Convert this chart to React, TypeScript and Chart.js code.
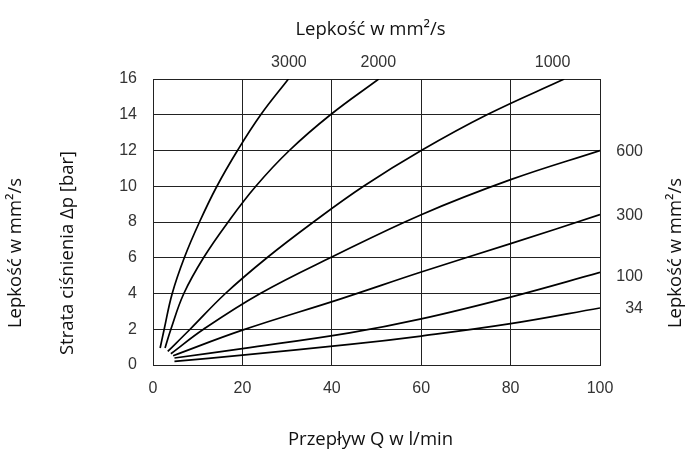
import React, { useEffect, useRef } from "react";
import { Chart, registerables } from "chart.js";

Chart.register(...registerables);

// Axis ticks
const flowTicks = [0, 20, 40, 60, 80, 100];
const pressureTicks = [0, 2, 4, 6, 8, 10, 12, 14, 16];

// Viscosity curves (Q in l/min, Δp in bar)
const viscosityLabels = ["3000", "2000", "1000", "600", "300", "100", "34"];

const q3000 = [1.6, 2.5, 4.3, 7.0, 10.4, 14.3, 18.9, 24.1, 30.3];
const p3000 = [0.95, 2, 4, 6, 8, 10, 12, 14, 16];

const q2000 = [2.7, 4.0, 6.9, 11.3, 16.8, 23.0, 30.5, 39.7, 50.5];
const p2000 = [0.95, 2, 4, 6, 8, 10, 12, 14, 16];

const q1000 = [3.3, 8.3, 16.2, 25.5, 35.9, 47.1, 60, 74.7, 92];
const p1000 = [0.76, 2, 4, 6, 8, 10, 12, 14, 16];

const q600 = [4.0, 11.3, 24, 40, 60, 80, 100];
const p600 = [0.63, 2, 4, 6.04, 8.41, 10.37, 12.0];

const q300 = [4.5, 20, 42, 60, 80, 100];
const p300 = [0.52, 1.95, 3.7, 5.2, 6.79, 8.41];

const q100 = [4.8, 20, 44, 60, 80, 100];
const p100 = [0.39, 0.92, 1.8, 2.58, 3.8, 5.18];

const q34 = [4.8, 20, 44, 60, 80, 100];
const p34 = [0.2, 0.55, 1.15, 1.62, 2.31, 3.19];

const seriesQ = [q3000, q2000, q1000, q600, q300, q100, q34];
const seriesP = [p3000, p2000, p1000, p600, p300, p100, p34];

// Text
const titleTop = "Lepkość w mm²/s";
const titleLeftOuter = "Lepkość w mm²/s";
const titleLeftInner = "Strata ciśnienia Δp [bar]";
const titleRight = "Lepkość w mm²/s";
const titleBottom = "Przepływ Q w l/min";

export default function App() {
  const canvasRef = useRef<HTMLCanvasElement | null>(null);

  useEffect(() => {
    document.body.style.margin = "0";
    const canvas = canvasRef.current;
    if (!canvas) return;

    const TITLE_FONT = '18.5px "Open Sans"';
    const TICK_FONT_FAMILY = '"Liberation Sans", Arial, sans-serif';
    const TICK_COLOR = "#333";

    // label anchors (x in flow units for top labels, y in bar units for right labels)
    const topLabelAnchors = [30.4, 50.4, 89.4];
    const rightLabelAnchors = [11.95, 8.35, 4.95, 3.13];

    const textPlugin = {
      id: "chartTexts",
      afterDraw(chart: any) {
        const { ctx, chartArea: a, scales } = chart;
        const xs = scales.x;
        const ys = scales.y;
        const cx = (a.left + a.right) / 2 - 6;
        const cy = (a.top + a.bottom) / 2 + 31;
        ctx.save();
        ctx.fillStyle = "#111";
        ctx.font = TITLE_FONT;
        ctx.textAlign = "center";
        ctx.textBaseline = "alphabetic";
        ctx.fillText(titleTop, cx, a.top - 44.5);
        ctx.fillText(titleBottom, cx, a.bottom + 80);

        const drawRot = (text: string, x: number, y: number) => {
          ctx.save();
          ctx.translate(x, y);
          ctx.rotate(-Math.PI / 2);
          ctx.textAlign = "center";
          ctx.textBaseline = "middle";
          ctx.fillText(text, 0, 0);
          ctx.restore();
        };
        drawRot(titleLeftOuter, 16, cy);
        drawRot(titleLeftInner, 68, cy);
        drawRot(titleRight, a.right + 76, cy);

        ctx.font = "16px " + TICK_FONT_FAMILY;
        ctx.fillStyle = TICK_COLOR;
        ctx.textAlign = "center";
        ctx.textBaseline = "alphabetic";
        for (let i = 0; i < 3; i++) {
          ctx.fillText(viscosityLabels[i], xs.getPixelForValue(topLabelAnchors[i]), a.top - 12.5);
        }
        ctx.textAlign = "right";
        ctx.textBaseline = "middle";
        for (let i = 3; i < 7; i++) {
          ctx.fillText(viscosityLabels[i], a.right + 43, ys.getPixelForValue(rightLabelAnchors[i - 3]));
        }
        ctx.restore();
      },
    };

    const datasets = seriesQ.map((qs, i) => ({
      label: viscosityLabels[i],
      data: qs.map((q, j) => ({ x: q, y: seriesP[i][j] })),
      borderColor: "#000",
      borderWidth: 1.7,
      pointRadius: 0,
      fill: false,
      tension: 0.4,
    }));

    const chart = new Chart(canvas, {
      type: "line",
      data: { datasets },
      options: {
        animation: false,
        responsive: false,
        maintainAspectRatio: false,
        layout: { padding: { left: 0, top: 79, right: 88, bottom: 0 } },
        plugins: {
          legend: { display: false },
          tooltip: { enabled: false },
        },
        scales: {
          x: {
            type: "linear",
            min: 0,
            max: 100,
            afterFit: (scale: any) => {
              scale.height = 85;
            },
            afterBuildTicks: (scale: any) => {
              scale.ticks = flowTicks.map((v) => ({ value: v }));
            },
            grid: { color: "#222", lineWidth: 1, drawTicks: false },
            border: { display: true, color: "#222", width: 1 },
            ticks: {
              autoSkip: false,
              maxRotation: 0,
              padding: 14,
              color: TICK_COLOR,
              font: { family: TICK_FONT_FAMILY, size: 16 },
            },
          },
          y: {
            type: "linear",
            min: 0,
            max: 16,
            afterFit: (scale: any) => {
              scale.width = 153;
            },
            afterBuildTicks: (scale: any) => {
              scale.ticks = pressureTicks.map((v) => ({ value: v }));
            },
            grid: { color: "#222", lineWidth: 1, drawTicks: false },
            border: { display: true, color: "#222", width: 1 },
            ticks: {
              autoSkip: false,
              padding: 16,
              color: TICK_COLOR,
              font: { family: TICK_FONT_FAMILY, size: 16 },
            },
          },
        },
      },
      plugins: [textPlugin],
    });

    return () => {
      chart.destroy();
    };
  }, []);

  return (
    <div style={{ width: 688, height: 450, background: "#fff" }}>
      <canvas ref={canvasRef} width={688} height={450} style={{ display: "block" }} />
    </div>
  );
}
